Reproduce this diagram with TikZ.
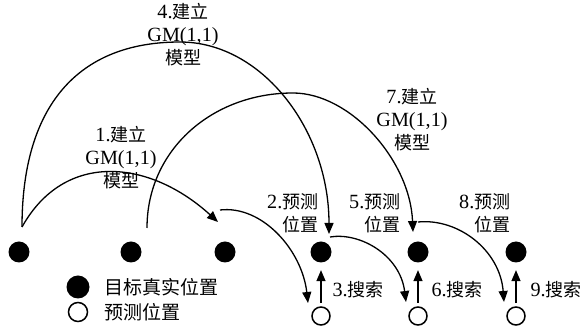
\documentclass[tikz,border=0pt]{standalone}
\usepackage{fontspec}
\setmainfont{Liberation Serif}[Scale=1.12]
\newfontfamily\cjk{Noto Sans CJK SC}
\usetikzlibrary{arrows.meta}
\begin{document}
\begin{tikzpicture}[x=1pt,y=-1pt,
  line width=1.3pt,
  dot/.style={circle,fill=black,inner sep=0pt,minimum size=21pt},
  hol/.style={circle,draw=black,fill=white,line width=1.5pt,inner sep=0pt,minimum size=18pt},
  lbl/.style={align=center,font=\fontsize{18}{23}\selectfont,inner sep=0pt},
  arr/.style={-{Triangle[length=11pt,width=9pt]}},
]
\useasboundingbox (0,0) rectangle (587,328);
% true positions
\node[dot] (d1) at (19,252) {};
\node[dot] (d2) at (131,252) {};
\node[dot] (d3) at (225,252) {};
\node[dot] (d4) at (321,252) {};
\node[dot] (d5) at (418,252) {};
\node[dot] (d6) at (516,252) {};
% predicted positions
\node[hol] (h4) at (321,316) {};
\node[hol] (h5) at (418,316) {};
\node[hol] (h6) at (516,316) {};
% arc anchors
\coordinate (s1) at (22,227);
\coordinate (s2) at (147,228);
\coordinate (t1) at (218,222);
\coordinate (t4) at (329,234);
\coordinate (t7) at (413,232);
\coordinate (c1) at (220,210);
\coordinate (c2) at (330,237);
\coordinate (c3) at (418,222);
\coordinate (e4) at (308,303);
\coordinate (e5) at (406,302);
\coordinate (e6) at (504,302);
% model arcs
\draw[arr] (s1) .. controls (22,107) and (77,42) .. (180,42)
                .. controls (262,42) and (329,130) .. (t4);
\draw[arr] (s1) .. controls (65,150) and (150,160) .. (t1);
\draw[arr] (s2) .. controls (147,150) and (212,93) .. (293,93)
                .. controls (350,93) and (410,160) .. (t7);
% search arcs
\draw[arr] (c1) .. controls (262,205) and (302,250) .. (e4);
\draw[arr] (c2) .. controls (360,232) and (400,255) .. (e5);
\draw[arr] (c3) .. controls (458,218) and (500,250) .. (e6);
% search arrows
\draw[arr,shorten <=3pt,shorten >=7pt] (h4.north) -- (d4.south);
\draw[arr,shorten <=3pt,shorten >=7pt] (h5.north) -- (d5.south);
\draw[arr,shorten <=3pt,shorten >=7pt] (h6.north) -- (d6.south);
% labels
\node[lbl] (l4) at (183,35) {4.{\cjk 建立}\\GM(1,1)\\{\cjk 模型}};
\node[lbl] (l1) at (121,158) {1.{\cjk 建立}\\GM(1,1)\\{\cjk 模型}};
\node[lbl] (l7) at (412,120) {7.{\cjk 建立}\\GM(1,1)\\{\cjk 模型}};
\node[lbl,align=right,anchor=east] (p2) at (319,213) {2.{\cjk 预测}\\{\cjk 位置}};
\node[lbl,align=right,anchor=east] (p5) at (401,213) {5.{\cjk 预测}\\{\cjk 位置}};
\node[lbl,align=right,anchor=east] (p8) at (511,213) {8.{\cjk 预测}\\{\cjk 位置}};
\node[lbl,anchor=west] (q3) at (332,290) {3.{\cjk 搜索}};
\node[lbl,anchor=west] (q6) at (431,290) {6.{\cjk 搜索}};
\node[lbl,anchor=west] (q9) at (530,290) {9.{\cjk 搜索}};
% legend
\node[dot,minimum size=23pt] (ld) at (78,287) {};
\node[hol,minimum size=19pt] (lh) at (78,312) {};
\node[lbl,anchor=west,font=\fontsize{19}{23}\selectfont] (lt1) at (104,287) {\cjk 目标真实位置};
\node[lbl,anchor=west,font=\fontsize{19}{23}\selectfont] (lt2) at (104,312) {\cjk 预测位置};
\end{tikzpicture}
\end{document}
